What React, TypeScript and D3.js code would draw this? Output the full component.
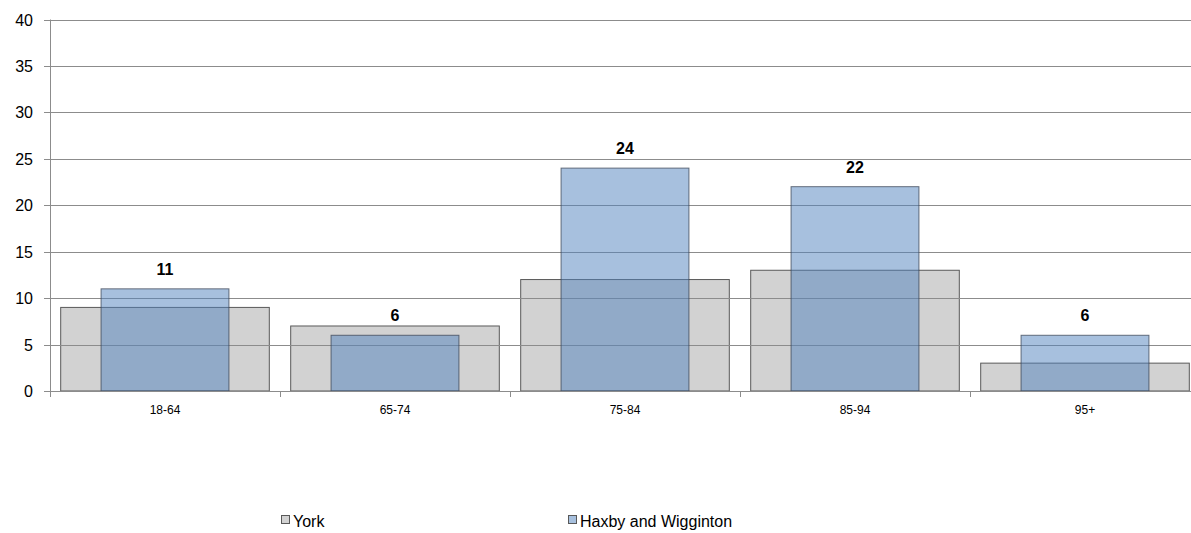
import { useEffect, useRef } from 'react';
import * as d3 from 'd3';

const categories = ['18-64', '65-74', '75-84', '85-94', '95+'];
const yorkValues = [9, 7, 12, 13, 3];
const haxbyValues = [11, 6, 24, 22, 6];
const yTicks = [0, 5, 10, 15, 20, 25, 30, 35, 40];
const seriesNames = ['York', 'Haxby and Wigginton'];

export default function App() {
  const svgRef = useRef<SVGSVGElement>(null);

  useEffect(() => {
    if (!svgRef.current) return;
    const svg = d3.select(svgRef.current);
    svg.selectAll('*').remove();

    // plot area runs slightly past the right edge of the page (clipped)
    const left = 50;
    const right = 1200;
    const top = 19.5;
    const bottom = 391;
    const font = 'Liberation Sans, Arial, sans-serif';

    const x = d3.scaleBand<string>().domain(categories).range([left, right]);
    const y = d3.scaleLinear().domain([0, 40]).range([bottom, top]);

    const g = svg.append('g');

    // York bars (wide, grey)
    const yorkW = x.bandwidth() * 0.907;
    g.selectAll('.york')
      .data(yorkValues)
      .join('rect')
      .attr('x', (d, i) => x(categories[i])! + (x.bandwidth() - yorkW) / 2)
      .attr('y', d => y(d))
      .attr('width', yorkW)
      .attr('height', d => bottom - y(d))
      .attr('fill', 'rgba(165,165,165,0.5)')
      .attr('stroke', '#595959')
      .attr('stroke-width', 1);

    // gridlines
    g.selectAll('.grid')
      .data(yTicks)
      .join('line')
      .attr('x1', left - 6)
      .attr('x2', right)
      .attr('y1', d => Math.round(y(d)) + 0.5)
      .attr('y2', d => Math.round(y(d)) + 0.5)
      .attr('stroke', '#8c8c8c')
      .attr('stroke-width', 1);

    // Haxby bars (narrow, translucent blue)
    const haxW = x.bandwidth() * 0.556;
    g.selectAll('.haxby')
      .data(haxbyValues)
      .join('rect')
      .attr('x', (d, i) => x(categories[i])! + (x.bandwidth() - haxW) / 2)
      .attr('y', d => y(d))
      .attr('width', haxW)
      .attr('height', d => bottom - y(d))
      .attr('fill', 'rgba(79,129,189,0.5)')
      .attr('stroke', 'rgba(60,70,85,0.75)')
      .attr('stroke-width', 1);

    // axes
    g.append('line')
      .attr('x1', left + 0.5).attr('x2', left + 0.5)
      .attr('y1', top).attr('y2', bottom)
      .attr('stroke', '#8c8c8c');
    g.append('line')
      .attr('x1', left).attr('x2', right)
      .attr('y1', Math.round(bottom) + 0.5).attr('y2', Math.round(bottom) + 0.5)
      .attr('stroke', '#8c8c8c');
    const bounds = categories.map(c => x(c)!).concat([right]);
    g.selectAll('.xtick')
      .data(bounds)
      .join('line')
      .attr('x1', d => Math.round(d) + 0.5)
      .attr('x2', d => Math.round(d) + 0.5)
      .attr('y1', bottom)
      .attr('y2', bottom + 6)
      .attr('stroke', '#8c8c8c');

    // y labels
    g.selectAll('.ylab')
      .data(yTicks)
      .join('text')
      .attr('x', 33)
      .attr('y', d => y(d) + 6)
      .attr('text-anchor', 'end')
      .attr('font-family', font)
      .attr('font-size', '16px')
      .attr('fill', '#000')
      .text(d => d);

    // x labels
    g.selectAll('.xlab')
      .data(categories)
      .join('text')
      .attr('x', d => x(d)! + x.bandwidth() / 2)
      .attr('y', 414)
      .attr('text-anchor', 'middle')
      .attr('font-family', font)
      .attr('font-size', '12px')
      .attr('fill', '#000')
      .text(d => d);

    // data labels
    g.selectAll('.dlab')
      .data(haxbyValues)
      .join('text')
      .attr('x', (d, i) => x(categories[i])! + x.bandwidth() / 2)
      .attr('y', d => y(d) - 14)
      .attr('text-anchor', 'middle')
      .attr('font-family', font)
      .attr('font-size', '16px')
      .attr('font-weight', 'bold')
      .attr('fill', '#000')
      .text(d => d);

    // legend
    const legendX = [281, 568];
    const legendFill = ['rgb(210,210,210)', 'rgb(167,192,222)'];
    seriesNames.forEach((name, i) => {
      g.append('rect')
        .attr('x', legendX[i] + 0.5)
        .attr('y', 515.5)
        .attr('width', 8)
        .attr('height', 8)
        .attr('fill', legendFill[i])
        .attr('stroke', '#595959');
      g.append('text')
        .attr('x', legendX[i] + 12)
        .attr('y', 527)
        .attr('font-family', font)
        .attr('font-size', '16px')
        .attr('fill', '#000')
        .text(name);
    });
  }, []);

  return (
    <svg
      ref={svgRef}
      width={1191}
      height={533}
      style={{ position: 'absolute', left: 0, top: 0, background: '#fff' }}
    />
  );
}
